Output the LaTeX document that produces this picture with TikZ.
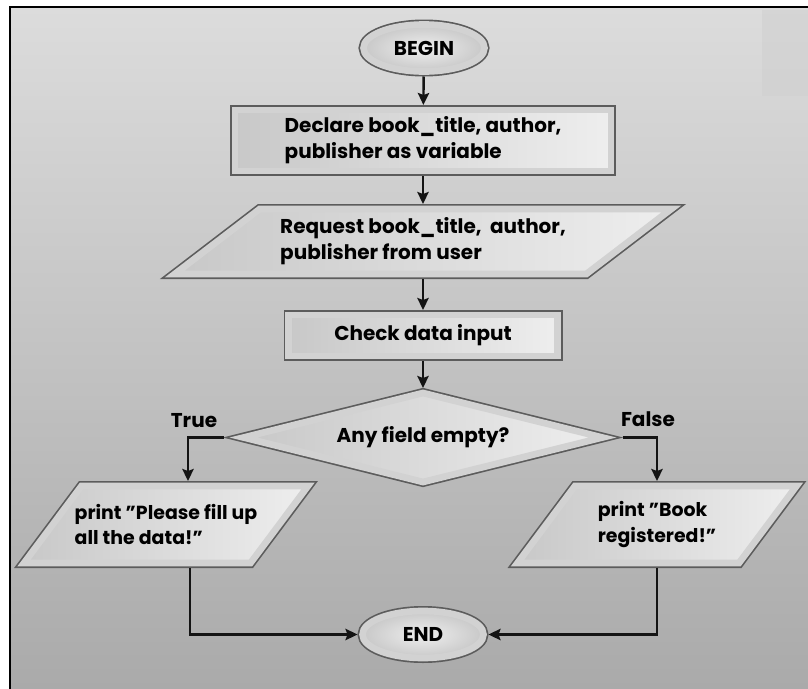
\documentclass[tikz,border=0pt]{standalone}
\usepackage{fontspec}
\setmainfont{Poppins}
\usetikzlibrary{arrows.meta}
\pgfdeclarelayer{back}
\pgfsetlayers{back,main}
\definecolor{bgtop}{RGB}{220,220,220}
\definecolor{bgmid}{RGB}{180,180,180}
\definecolor{bgbot}{RGB}{170,170,170}
\definecolor{rimgray}{RGB}{92,92,92}
\definecolor{bandgray}{RGB}{210,210,210}
\definecolor{filldark}{RGB}{200,200,200}
\definecolor{filllight}{RGB}{238,238,238}
\definecolor{linecol}{RGB}{20,20,20}
\newcommand{\pxl}{0.75pt}
\tikzset{
  bevel/.style={draw=bandgray, line width=5pt, left color=filldark, right color=filllight,
    preaction={draw=rimgray, line width=7.5pt}},
  txt/.style={inner sep=0pt, outer sep=0pt, align=left,
    font=\bfseries\fontsize{15}{19.5}\selectfont},
  small/.style={font=\bfseries\fontsize{14.2}{19}\selectfont},
  lbl/.style={font=\bfseries\fontsize{15}{18}\selectfont},
  arr/.style={draw=linecol, line width=1.8pt,
    -{Stealth[length=9pt, width=8.5pt, inset=1.5pt]}}
}
\begin{document}
\begin{tikzpicture}[x=0.75pt, y=-0.75pt]
  \useasboundingbox (0,0) rectangle (808,689);
  % the steps
  \node[txt, minimum width=131*\pxl, minimum height=57*\pxl] (start) at (424,48) {BEGIN};
  \node[txt, minimum width=386*\pxl, minimum height=71*\pxl] (decl) at (423,140.5)
    {Declare book\_title, author,\\publisher as variable};
  \node[txt, minimum width=428*\pxl, minimum height=75*\pxl] (req) at (423,241.5)
    {Request book\_title,\ \ author,\\publisher from user};
  \node[txt, minimum width=279*\pxl, minimum height=51*\pxl] (check) at (423,335.5) {Check data input};
  \node[txt, minimum width=399*\pxl, minimum height=99*\pxl] (dia) at (423,437.5) {Any field empty?};
  \node[txt, small, minimum width=239*\pxl, minimum height=87*\pxl] (yes) at (166,524.5)
    {print "Please fill up\\all the data!"};
  \node[txt, small, minimum width=234*\pxl, minimum height=87*\pxl] (no) at (657,524.5)
    {print "Book\\registered!"};
  \node[txt, minimum width=131*\pxl, minimum height=57*\pxl] (stop) at (423,634.5) {END};
  \node[lbl] (truelbl) at (194,421) {True};
  \node[lbl] (falselbl) at (648,419) {False};

  % shapes behind the texts
  \begin{pgfonlayer}{back}
    \fill[white] (0,0) rectangle (808,689);
    \shade[top color=bgtop, middle color=bgmid, bottom color=bgbot] (10,7) rectangle (808,689);
    \fill[bgtop!94!black, opacity=0.5] (762,10) rectangle (808,96);
    \draw[line width=2.2pt] (10,689) -- (10,7) -- (808,7);
    \draw[bevel, inner color=filllight, outer color=filldark] (start.center) ellipse [x radius=60.5, y radius=23.5];
    \draw[bevel] ([shift={(5,5)}]decl.north west) rectangle ([shift={(-5,-5)}]decl.south east);
    \draw[bevel] ([shift={(50.7,5)}]req.north west) -- ([shift={(34.3,5)}]req.north east)
      -- ([shift={(-50.7,-5)}]req.south east) -- ([shift={(-34.3,-5)}]req.south west) -- cycle;
    \draw[bevel] ([shift={(5,5)}]check.north west) rectangle ([shift={(-5,-5)}]check.south east);
    \draw[bevel] ([shift={(20,0)}]dia.west) -- ([shift={(0,5)}]dia.north)
      -- ([shift={(-20,0)}]dia.east) -- ([shift={(0,-5)}]dia.south) -- cycle;
    \draw[bevel] ([shift={(35,5)}]yes.north west) -- ([shift={(22.5,5)}]yes.north east)
      -- ([shift={(-35,-5)}]yes.south east) -- ([shift={(-22.5,-5)}]yes.south west) -- cycle;
    \draw[bevel] ([shift={(35,5)}]no.north west) -- ([shift={(22.5,5)}]no.north east)
      -- ([shift={(-35,-5)}]no.south east) -- ([shift={(-22.5,-5)}]no.south west) -- cycle;
    \draw[bevel, inner color=filllight, outer color=filldark] (stop.center) ellipse [x radius=60.5, y radius=23.5];
  \end{pgfonlayer}

  % arrows
  \draw[arr] (start) -- (decl);
  \draw[arr] (decl) -- (req);
  \draw[arr] (req) -- (check);
  \draw[arr] (check) -- (dia);
  \draw[arr] (dia.west) -| ([shift={(22,0)}]yes.north);
  \draw[arr] (dia.east) -| (no.north);
  \draw[arr] ([shift={(24,0)}]yes.south) |- (stop.west);
  \draw[arr] (no.south) |- (stop.east);
\end{tikzpicture}
\end{document}
